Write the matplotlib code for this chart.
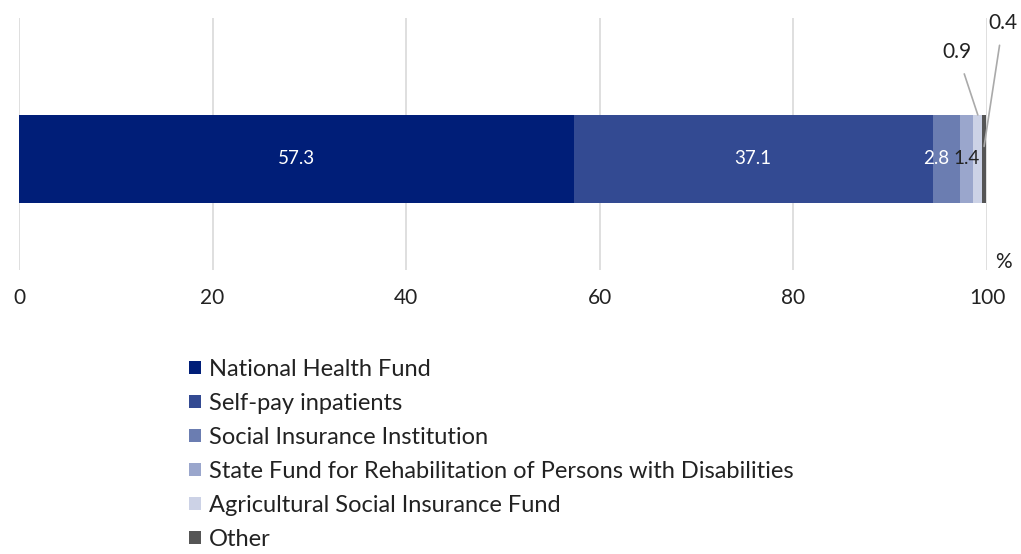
import matplotlib
matplotlib.use("Agg")
import matplotlib.pyplot as plt
from matplotlib.patches import Patch

plt.rcParams['font.family'] = ['Lato', 'DejaVu Sans']

categories = ["National Health Fund", "Self-pay inpatients", "Social Insurance Institution",
              "State Fund for Rehabilitation of Persons with Disabilities",
              "Agricultural Social Insurance Fund", "Other"]
values = [57.3, 37.1, 2.8, 1.4, 0.9, 0.4]
colors = ["#001e78", "#334a92", "#6b7db1", "#9aa6cc", "#ccd2e6", "#555555"]
label_colors = ["white", "white", "white", "#222222", None, None]
xticks = [0, 20, 40, 60, 80, 100]

fig = plt.figure(figsize=(10.21, 5.54), dpi=100)
ax = fig.add_axes([19/1021, 1-270/554, (987-19)/1021, 252/554])

h = 0.35
left = 0
for v, c, lc in zip(values, colors, label_colors):
    ax.barh(0, v, left=left, height=h, color=c, edgecolor='none', zorder=3)
    if lc is not None:
        dx = -1.0 if v == 2.8 else 0
        ax.text(left + v/2 + dx, 0, f"{v}", ha='center', va='center', color=lc,
                fontsize=13.5, zorder=4)
    left += v

# leader labels for small segments
cum = [sum(values[:i]) for i in range(len(values))]
i9 = 4
ax.annotate(f"{values[i9]}", xy=(cum[i9] + values[i9]/2, h/2), xytext=(96.9, 0.425),
            ha='center', va='center', fontsize=15, color='#222222',
            arrowprops=dict(arrowstyle='-', color='#aaaaaa', lw=1.2, shrinkA=7, shrinkB=0),
            annotation_clip=False)
i4 = 5
ax.annotate(f"{values[i4]}", xy=(cum[i4] + values[i4]/2, 0.05), xytext=(101.65, 0.54),
            ha='center', va='center', fontsize=15, color='#222222',
            arrowprops=dict(arrowstyle='-', color='#aaaaaa', lw=1.2, shrinkA=7, shrinkB=0),
            annotation_clip=False)

ax.set_xlim(0, 100)
ax.set_ylim(-111/252, 141/252)
ax.set_xticks(xticks)
ax.set_xticklabels([str(t) for t in xticks], fontsize=15, color='#222222')
ax.set_yticks([])
ax.tick_params(axis='x', length=0, pad=13)
ax.grid(axis='x', color='#d9d9d9', lw=1.2, zorder=0)
for s in ax.spines.values():
    s.set_visible(False)
ax.text(1.017, 0.03, "%", transform=ax.transAxes, ha='center', va='center', fontsize=15,
        color='#222222')

handles = [Patch(facecolor=c, edgecolor='none') for c in colors]
fig.legend(handles, categories, loc='upper left', bbox_to_anchor=(189/1021, 1-359/554),
           frameon=False, fontsize=17, handlelength=0.5, handleheight=0.5,
           handletextpad=0.35, labelspacing=0.55, borderaxespad=0, borderpad=0,
           labelcolor='#222222')

fig.savefig("out.png", dpi=100)
